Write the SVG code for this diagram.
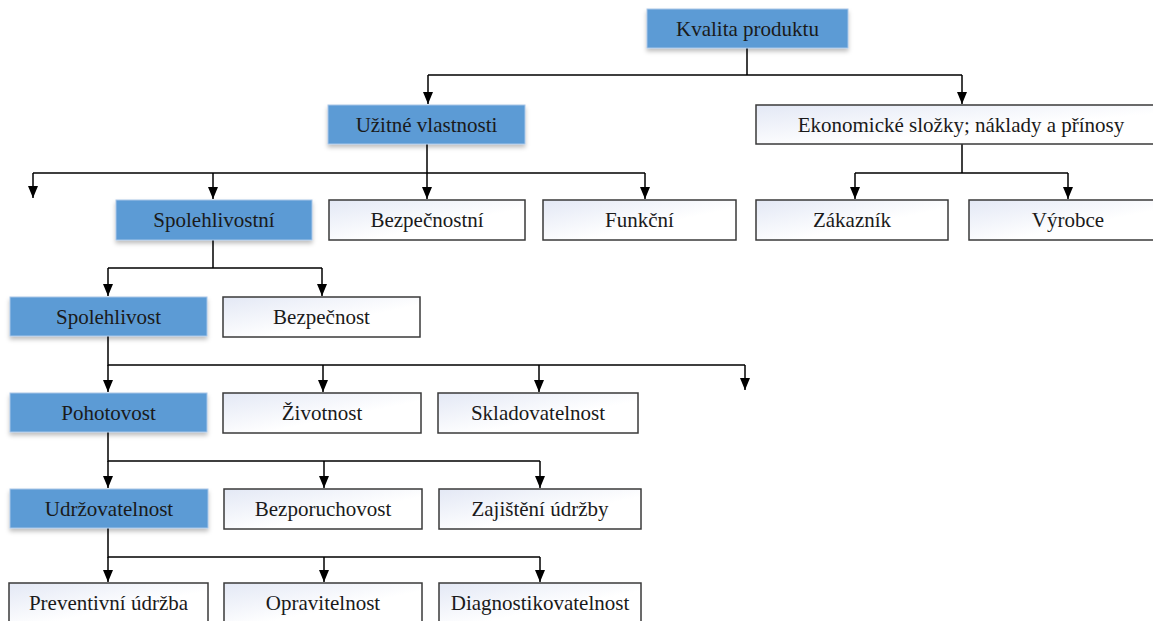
<svg xmlns="http://www.w3.org/2000/svg" width="1153" height="621" viewBox="0 0 1153 621">
<defs>
<linearGradient id="wg" x1="0" y1="0" x2="1" y2="1">
<stop offset="0" stop-color="#E3E8F5"/>
<stop offset="0.6" stop-color="#FFFFFF"/>
</linearGradient>
<filter id="sh" x="-10%" y="-20%" width="120%" height="160%">
<feDropShadow dx="0" dy="3" stdDeviation="2" flood-color="#000" flood-opacity="0.25"/>
</filter>
<marker id="ah" viewBox="0 0 12 10" markerWidth="12" markerHeight="10" refX="12" refY="5" orient="auto" markerUnits="userSpaceOnUse">
<path d="M0,0 L12,5 L0,10 z" fill="#000"/>
</marker>
<style>
.b{fill:#5B9BD5;stroke:#A9C6E8;stroke-width:1;filter:url(#sh)}
.w{fill:url(#wg);stroke:#3A3A3A;stroke-width:1.5}
.t{font-family:'Liberation Serif','DejaVu Serif','Times New Roman',serif;font-size:21px;fill:#1A1A1A;text-anchor:middle}
.c{fill:none;stroke:#000;stroke-width:1.5}
.a{marker-end:url(#ah)}
</style>
</defs>
<g id="connectors">
<path class="c" d="M747,48 V75 M428,75 H962"/>
<path class="c a" d="M428,75 V104"/>
<path class="c a" d="M962,75 V104"/>
<path class="c" d="M427,144 V173 M33,173 H645"/>
<path class="c a" d="M33,173 V198"/>
<path class="c a" d="M213,173 V199"/>
<path class="c a" d="M427,173 V199"/>
<path class="c a" d="M645,173 V199"/>
<path class="c" d="M962,144 V173 M855,173 H1068"/>
<path class="c a" d="M855,173 V199"/>
<path class="c a" d="M1068,173 V199"/>
<path class="c" d="M213,240 V268 M108,268 H322"/>
<path class="c a" d="M108,268 V296"/>
<path class="c a" d="M322,268 V296"/>
<path class="c" d="M108,336 V365 H745"/>
<path class="c a" d="M108,365 V392"/>
<path class="c a" d="M323,365 V392"/>
<path class="c a" d="M539,365 V392"/>
<path class="c a" d="M745,365 V390"/>
<path class="c" d="M108,432 V461 H540"/>
<path class="c a" d="M108,461 V488"/>
<path class="c a" d="M324,461 V488"/>
<path class="c a" d="M540,461 V488"/>
<path class="c" d="M108,528 V557 H540"/>
<path class="c a" d="M108,557 V582"/>
<path class="c a" d="M324,557 V582"/>
<path class="c a" d="M540,557 V582"/>
</g>
<g font-family="Liberation Serif, DejaVu Serif, serif" font-size="21">
<g id="kvalita"><rect class="b" x="647" y="9" width="201" height="39"/><text class="t" x="747.5" y="35.5">Kvalita produktu</text></g>
<g id="uzitne"><rect class="b" x="328" y="105" width="197" height="39"/><text class="t" x="426.5" y="131.5">Užitné vlastnosti</text></g>
<g id="ekonomicke"><rect class="w" x="756" y="105" width="410" height="39"/><text class="t" x="961" y="131.5">Ekonomické složky; náklady a přínosy</text></g>
<g id="spolehlivostni"><rect class="b" x="116" y="200" width="196" height="40"/><text class="t" x="214" y="227">Spolehlivostní</text></g>
<g id="bezpecnostni"><rect class="w" x="329" y="200" width="196" height="40"/><text class="t" x="427" y="227">Bezpečnostní</text></g>
<g id="funkcni"><rect class="w" x="543" y="200" width="193" height="40"/><text class="t" x="639.5" y="227">Funkční</text></g>
<g id="zakaznik"><rect class="w" x="756" y="200" width="192" height="40"/><text class="t" x="852" y="227">Zákazník</text></g>
<g id="vyrobce"><rect class="w" x="969" y="200" width="198" height="40"/><text class="t" x="1068" y="227">Výrobce</text></g>
<g id="spolehlivost"><rect class="b" x="10" y="297" width="197" height="39"/><text class="t" x="108.5" y="323.5">Spolehlivost</text></g>
<g id="bezpecnost"><rect class="w" x="223" y="297" width="197" height="40"/><text class="t" x="321.5" y="324">Bezpečnost</text></g>
<g id="pohotovost"><rect class="b" x="10" y="393" width="197" height="39"/><text class="t" x="108.5" y="419.5">Pohotovost</text></g>
<g id="zivotnost"><rect class="w" x="223" y="393" width="198" height="40"/><text class="t" x="322" y="420">Životnost</text></g>
<g id="skladovatelnost"><rect class="w" x="438" y="393" width="200" height="40"/><text class="t" x="538" y="420">Skladovatelnost</text></g>
<g id="udrzovatelnost"><rect class="b" x="10" y="489" width="198" height="39"/><text class="t" x="109" y="515.5">Udržovatelnost</text></g>
<g id="bezporuchovost"><rect class="w" x="224" y="489" width="198" height="40"/><text class="t" x="323" y="516">Bezporuchovost</text></g>
<g id="zajisteni"><rect class="w" x="439" y="489" width="202" height="40"/><text class="t" x="540" y="516">Zajištění údržby</text></g>
<g id="preventivni"><rect class="w" x="9" y="583" width="199" height="40"/><text class="t" x="108.5" y="610">Preventivní údržba</text></g>
<g id="opravitelnost"><rect class="w" x="224" y="583" width="198" height="40"/><text class="t" x="323" y="610">Opravitelnost</text></g>
<g id="diagnostikovatelnost"><rect class="w" x="439" y="583" width="202" height="40"/><text class="t" x="540" y="610">Diagnostikovatelnost</text></g>
</g>
</svg>
